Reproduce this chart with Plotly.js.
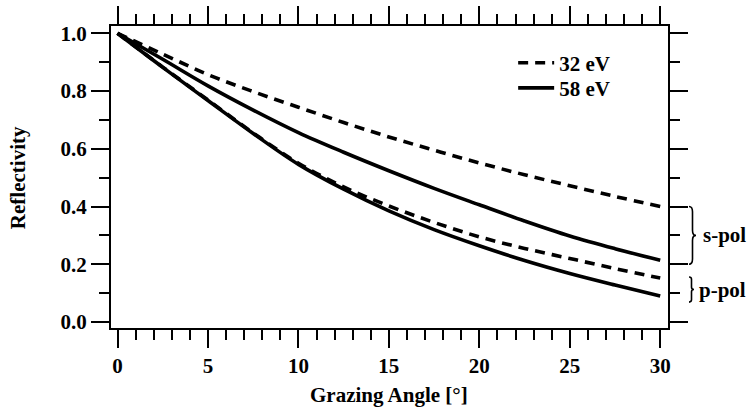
<!DOCTYPE html>
<html>
<head>
<meta charset="utf-8">
<script src="https://cdn.plot.ly/plotly-3.0.1.min.js"></script>
<style>
  html, body { margin: 0; padding: 0; background: #fff; }
  #chart { width: 754px; height: 410px; }
</style>
</head>
<body>
<div id="chart"></div>
<script>
// Grazing angle (degrees)
const angle = [0, 2.5, 5, 7.5, 10, 12.5, 15, 17.5, 20, 22.5, 25, 27.5, 30];
// s-polarisation reflectivity
const s32 = [1.0, 0.928, 0.857, 0.798, 0.744, 0.691, 0.641, 0.595, 0.551, 0.510, 0.472, 0.435, 0.400];
const s58 = [1.0, 0.910, 0.818, 0.734, 0.656, 0.588, 0.524, 0.463, 0.406, 0.350, 0.298, 0.254, 0.214];
// p-polarisation reflectivity
const p32 = [1.0, 0.883, 0.769, 0.655, 0.550, 0.468, 0.402, 0.345, 0.295, 0.255, 0.220, 0.185, 0.152];
const p58 = [1.0, 0.882, 0.767, 0.653, 0.546, 0.460, 0.385, 0.320, 0.264, 0.213, 0.168, 0.128, 0.090];
// legend names
const seriesNames = ['32 eV', '58 eV'];
// tick values
const xTicks = [0, 5, 10, 15, 20, 25, 30];
const yTicks = [0.0, 0.2, 0.4, 0.6, 0.8, 1.0];

const FAMILY = 'Liberation Serif';
function f(size) { return { family: FAMILY, size: size, color: '#000', weight: 'bold' }; }

const dashStyle = '10px,7px';
const LW = 3.6;

function mk(y, name, dashed, show, leg) {
  return {
    x: angle, y: y, type: 'scatter', mode: 'lines', name: name,
    showlegend: show, legend: leg,
    line: { color: '#000', width: LW, dash: dashed ? dashStyle : 'solid', shape: 'spline', smoothing: 1 }
  };
}

const traces = [
  mk(s32, seriesNames[0], true, true, 'legend'),
  mk(s58, seriesNames[1], false, true, 'legend2'),
  mk(p32, seriesNames[0], true, false, 'legend'),
  mk(p58, seriesNames[1], false, false, 'legend2')
];

function brace(top, bot, x0, w) {
  const mid = (top + bot) / 2;
  const q = (top - bot) * 0.09;
  const xm = x0 + w / 2, xt = x0 + w;
  return 'M' + x0 + ',' + top + ' Q' + xm + ',' + top + ' ' + xm + ',' + (top - q) +
         ' L' + xm + ',' + (mid + q) + ' Q' + xm + ',' + mid + ' ' + xt + ',' + mid +
         ' Q' + xm + ',' + mid + ' ' + xm + ',' + (mid - q) +
         ' L' + xm + ',' + (bot + q) + ' Q' + xm + ',' + bot + ' ' + x0 + ',' + bot;
}

const axisCommon = {
  showline: true, linecolor: '#000', linewidth: 2, mirror: 'ticks',
  ticks: 'outside', ticklen: 18, tickwidth: 2, tickcolor: '#000',
  showgrid: false, zeroline: false,
  tickfont: f(21)
};

const legendCommon = {
  xanchor: 'left', yanchor: 'top',
  bgcolor: 'rgba(0,0,0,0)', borderwidth: 0, itemwidth: 36,
  font: f(21)
};

const layout = {
  width: 754, height: 410,
  margin: { l: 111, r: 86, t: 26, b: 82, pad: 0 },
  paper_bgcolor: '#fff', plot_bgcolor: '#fff',
  font: { family: FAMILY, color: '#000' },
  xaxis: Object.assign({}, axisCommon, {
    range: [-0.36, 30.43], tickmode: 'array', tickvals: xTicks,
    minor: { dtick: 1, tick0: 0, ticklen: 10, tickwidth: 2, tickcolor: '#000', ticks: 'outside' }
  }),
  yaxis: Object.assign({}, axisCommon, {
    range: [-0.0208, 1.0253], tickmode: 'array', tickvals: yTicks, tickformat: '.1f',
    minor: { dtick: 0.1, tick0: 0, ticklen: 10, tickwidth: 2, tickcolor: '#000', ticks: 'outside' }
  }),
  showlegend: true,
  legend: Object.assign({}, legendCommon, { x: 0.722, y: 0.945 }),
  legend2: Object.assign({}, legendCommon, { x: 0.722, y: 0.862 }),
  shapes: [
    { type: 'path', xref: 'paper', yref: 'y', xsizemode: 'pixel', xanchor: 1,
      path: brace(0.4, 0.2, 21, 7), line: { color: '#000', width: 1.6 } },
    { type: 'path', xref: 'paper', yref: 'y', xsizemode: 'pixel', xanchor: 1,
      path: brace(0.156, 0.069, 21, 5), line: { color: '#000', width: 1.6 } }
  ],
  annotations: [
    { text: 'Grazing Angle [°]', xref: 'x', yref: 'paper', x: 15, y: 0, yshift: -67,
      xanchor: 'center', yanchor: 'middle', showarrow: false, font: f(21) },
    { text: 'Reflectivity', xref: 'paper', yref: 'y', x: 0, xshift: -93.5, y: 0.5,
      xanchor: 'center', yanchor: 'middle', textangle: -90, showarrow: false, font: f(21) },
    { text: 's-pol', xref: 'paper', yref: 'y', x: 1, xshift: 33, y: 0.3,
      xanchor: 'left', yanchor: 'middle', showarrow: false, font: f(21) },
    { text: 'p-pol', xref: 'paper', yref: 'y', x: 1, xshift: 29, y: 0.11,
      xanchor: 'left', yanchor: 'middle', showarrow: false, font: f(21) }
  ]
};

Plotly.newPlot('chart', traces, layout, { staticPlot: true, displayModeBar: false });
</script>
</body>
</html>
